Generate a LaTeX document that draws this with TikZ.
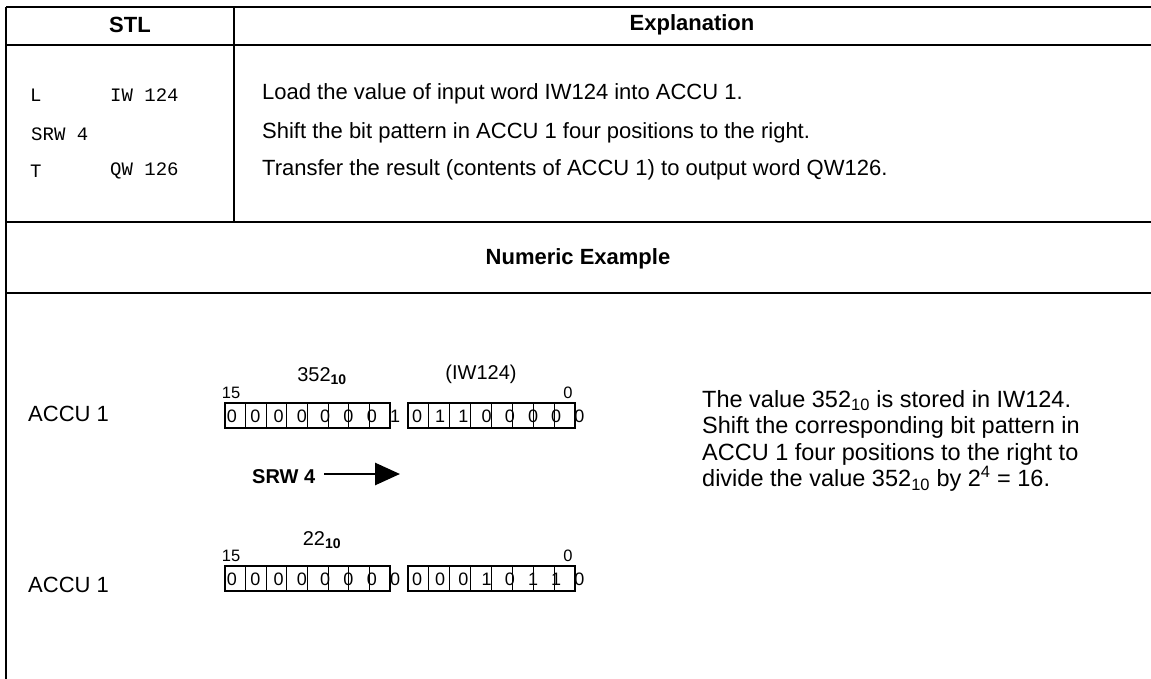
\documentclass[tikz,border=0pt]{standalone}
\usepackage{fontspec}
\setmainfont{Liberation Sans}
\setmonofont{Liberation Mono}
\usetikzlibrary{arrows.meta}
\tikzset{
  txt/.style={font=\fontsize{22}{26}\selectfont, inner sep=0pt},
  lbl/.style={font=\fontsize{20}{24}\selectfont, inner sep=0pt},
  rtxt/.style={font=\fontsize{23.5}{26.5}\selectfont, inner sep=0pt},
  hdr/.style={font=\fontsize{22}{26}\selectfont\bfseries, inner sep=0pt},
  code/.style={font=\fontsize{19}{22}\selectfont\ttfamily, inner sep=0pt, anchor=west},
  small/.style={font=\fontsize{16.5}{20}\selectfont, inner sep=0pt},
  bit/.style={font=\fontsize{18}{20}\selectfont, inner sep=0pt},
  rulel/.style={line width=1.6pt},
  cell/.style={line width=1.1pt},
}
\begin{document}
\begin{tikzpicture}[x=1pt,y=-1pt]
\useasboundingbox (0,0) rectangle (1151,679);
% table frame
\coordinate (tl) at (6,7);
\coordinate (tr) at (1151,7);
\coordinate (bl) at (6,679);
\coordinate (h1l) at (6,45);   \coordinate (h1r) at (1151,45);
\coordinate (h2l) at (6,222);  \coordinate (h2r) at (1151,222);
\coordinate (h3l) at (6,293);  \coordinate (h3r) at (1151,293);
\coordinate (vt) at (234,7);   \coordinate (vb) at (234,222);
\draw[rulel] (tl) -- (tr);
\draw[rulel] (tl) -- (bl);
\draw[rulel] (h1l) -- (h1r);
\draw[line width=2.6pt] (h2l) -- (h2r);
\draw[line width=2pt] (h3l) -- (h3r);
\draw[rulel] (vt) -- (vb);
% headers
\node[hdr] (stl) at (130,25) {STL};
\node[hdr] (expl) at (692,25) {Explanation};
\node[hdr] (num) at (578,259) {Numeric Example};
% code rows
\node[code] (c1a) at (30,95) {L};
\node[code] (c1b) at (110,95) {IW 124};
\node[code] (c2a) at (31,134) {SRW 4};
\node[code] (c3a) at (30,171) {T};
\node[code] (c3b) at (110,171) {QW 126};
% explanations
\node[txt, anchor=west] (e1) at (262,94) {Load the value of input word IW124 into ACCU 1.};
\node[txt, anchor=west] (e2) at (262,133) {Shift the bit pattern in ACCU 1 four positions to the right.};
\node[txt, anchor=west] (e3) at (262,170) {Transfer the result (contents of ACCU 1) to output word QW126.};
% numeric example - first register
\node[txt, anchor=west] (acc1) at (28,414) {ACCU 1};
\node[lbl] (v352) at (322,376) {352\textsubscript{\bfseries 10}};
\node[lbl] (iw) at (481,374) {(IW124)};
\node[small] (b15a) at (231,393) {15};
\node[small] (b0a) at (568,393) {0};
\foreach \xs/\xe in {225/390, 408/575}{
  \draw[cell] (\xs,403) rectangle (\xe,428);
  \foreach \k in {1,...,7}{
    \draw[cell] ({\xs+(\xe-\xs)*\k/8},403) -- ({\xs+(\xe-\xs)*\k/8},428);
  }
}
\foreach \d [count=\i from 0] in {0,0,0,0,0,0,0,1}
  \node[bit] (ra\i) at ({232+23.3*\i},416) {\d};
\foreach \d [count=\i from 0] in {0,1,1,0,0,0,0,0}
  \node[bit] (rb\i) at ({417+23.2*\i},416) {\d};
% shift arrow
\node[font=\fontsize{20}{24}\selectfont\bfseries, inner sep=0pt, anchor=west] (srw) at (252,477) {SRW 4};
\coordinate (as) at (324,474);
\coordinate (ae) at (400,474);
\draw[line width=2.8pt, -{Triangle[length=25pt,width=22pt]}] (as) -- (ae);
% second register
\node[txt, anchor=west] (acc2) at (28,585) {ACCU 1};
\node[lbl] (v22) at (322,540) {22\textsubscript{\bfseries 10}};
\node[small] (b15b) at (231,556) {15};
\node[small] (b0b) at (568,556) {0};
\foreach \xs/\xe in {225/390, 408/575}{
  \draw[cell] (\xs,566) rectangle (\xe,591);
  \foreach \k in {1,...,7}{
    \draw[cell] ({\xs+(\xe-\xs)*\k/8},566) -- ({\xs+(\xe-\xs)*\k/8},591);
  }
}
\foreach \d [count=\i from 0] in {0,0,0,0,0,0,0,0}
  \node[bit] (sa\i) at ({232+23.3*\i},579) {\d};
\foreach \d [count=\i from 0] in {0,0,0,1,0,1,1,0}
  \node[bit] (sb\i) at ({417+23.2*\i},579) {\d};
% right explanation
\node[rtxt, anchor=north west, align=left] (rt) at (702,390)
  {The value 352\textsubscript{10} is stored in IW124.\\
   Shift the corresponding bit pattern in\\
   ACCU 1 four positions to the right to\\
   divide the value 352\textsubscript{10} by 2\textsuperscript{4} = 16.};
\end{tikzpicture}
\end{document}
